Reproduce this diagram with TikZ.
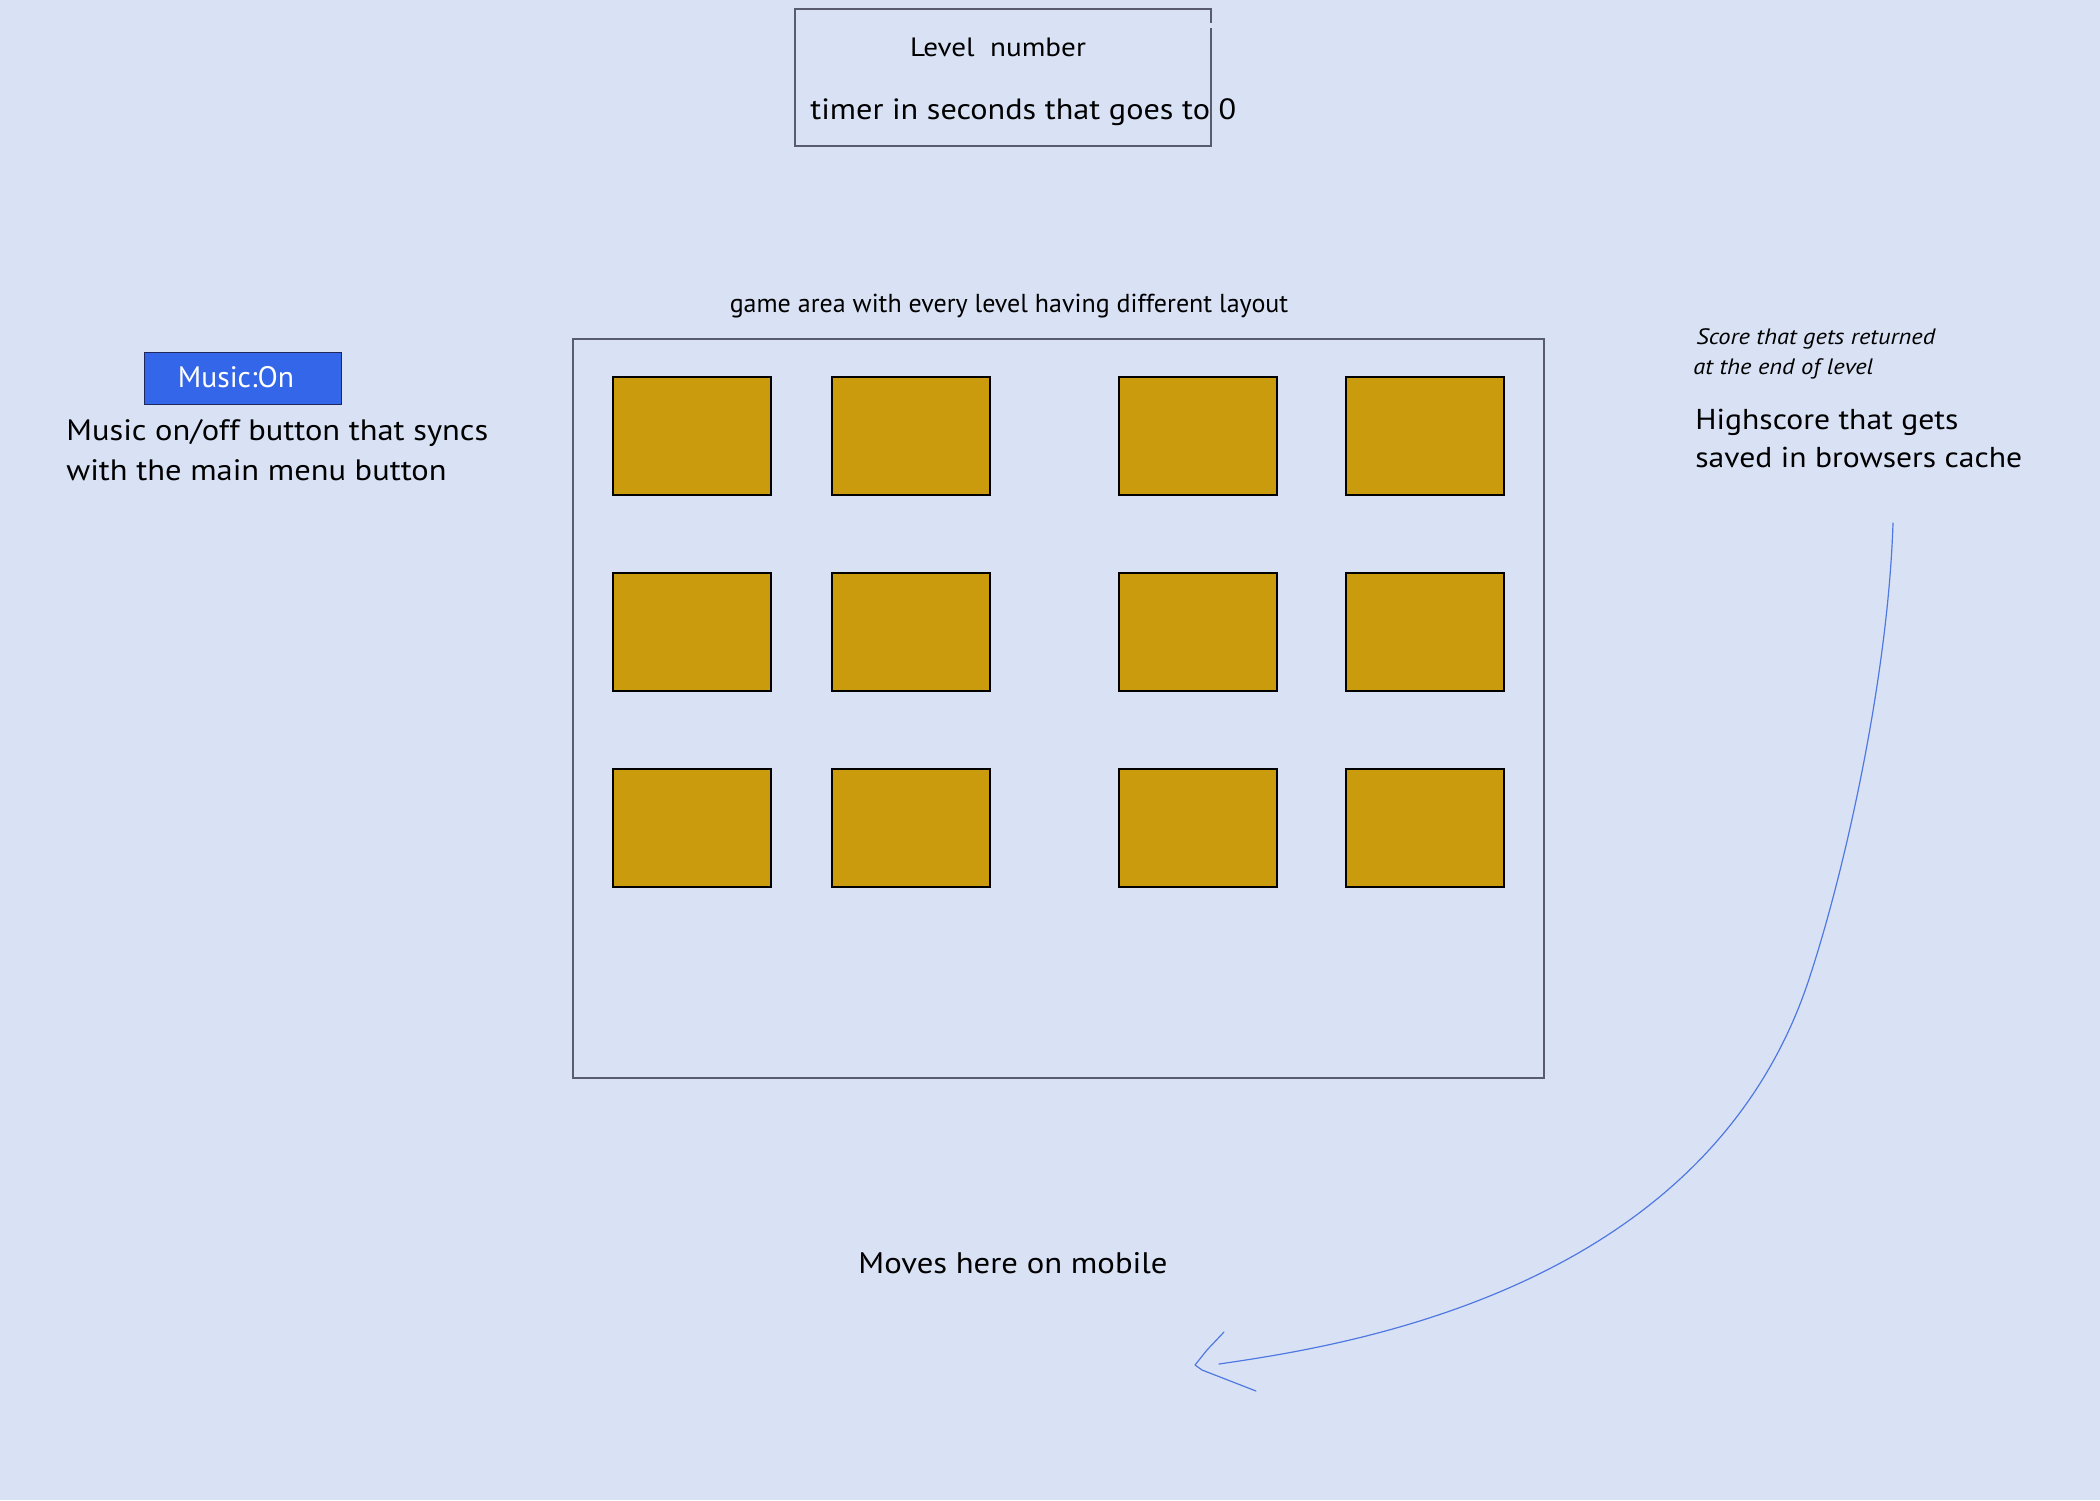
\documentclass[tikz,border=0pt]{standalone}
\usepackage{fontspec}
\setmainfont[FakeStretch=1.1]{PT Sans}
\newfontfamily\plainfont{PT Sans}
\definecolor{bg}{RGB}{217,226,245}
\definecolor{tile}{RGB}{201,155,13}
\definecolor{btn}{RGB}{51,102,232}
\definecolor{btnedge}{RGB}{30,40,90}
\definecolor{frame}{RGB}{88,92,110}
\definecolor{curve}{RGB}{80,120,225}
\begin{document}
\begin{tikzpicture}[x=0.5pt,y=-0.5pt,
  tilebox/.style={draw=black,line width=0.6pt,fill=tile},
  framebox/.style={draw=frame,line width=0.7pt},
  lbl/.style={inner sep=0pt,text=black},
  arrowline/.style={draw=curve,line width=0.6pt,line cap=round,line join=round}]
\useasboundingbox[fill=bg] (0,0) rectangle (2100,1500);
% top box
\draw[framebox] (1211,23) -- (1211,9) -- (795,9) -- (795,146) -- (1211,146) -- (1211,28);
\node[lbl,anchor=base,font=\fontsize{13.25}{16}\selectfont] (lvl) at (998,56) {Level\ \ number};
\node[lbl,anchor=base west,font=\fontsize{14.66}{18}\selectfont] (timer) at (810,119) {timer in seconds that goes to 0};
% music button
\node[draw=btnedge,fill=btn,line width=0.6pt,minimum width=98.5pt,minimum height=26pt,inner sep=0pt,anchor=north west] (music) at (144,352) {};
\node[lbl,text=white,anchor=base,font=\plainfont\fontsize{14.8}{18}\selectfont] (musictxt) at (236,387) {Music:On};
\node[lbl,anchor=base west,font=\fontsize{14.76}{20}\selectfont] (m1) at (66,440) {Music on/off button that syncs};
\node[lbl,anchor=base west,font=\fontsize{14.76}{20}\selectfont] (m2) at (66,480) {with the main menu button};
% game area
\node[lbl,anchor=base,font=\plainfont\fontsize{13}{16}\selectfont] (gtitle) at (1009,312) {game area with every level having different layout};
\draw[framebox] (573,339) rectangle (1544,1078);
\foreach \cx [count=\i] in {613,832,1119,1346}{
  \foreach \cy [count=\j] in {377,573,769}{
    \draw[tilebox] (\cx,\cy) rectangle ++(158,118);
  }
}
% right texts
\node[lbl,anchor=base west,font=\itshape\fontsize{11.14}{14}\selectfont] (s1) at (1696,344) {Score that gets returned};
\node[lbl,anchor=base west,font=\itshape\fontsize{11.14}{14}\selectfont] (s2) at (1693,374) {at the end of level};
\node[lbl,anchor=base west,font=\fontsize{14.38}{18}\selectfont] (h1) at (1695,429) {Highscore that gets};
\node[lbl,anchor=base west,font=\fontsize{14.38}{18}\selectfont] (h2) at (1695,467) {saved in browsers cache};
\node[lbl,anchor=base west,font=\fontsize{14.86}{18}\selectfont] (moves) at (858,1273) {Moves here on mobile};
% curve arrow
\coordinate (cstart) at (1893,523);
\coordinate (cmid) at (1806,988);
\coordinate (cend) at (1219,1364);
\coordinate (tip) at (1195,1365);
\coordinate (barbA) at (1224,1332);
\coordinate (barbB) at (1256,1391);
\draw[arrowline] (cstart) .. controls (1888,680) and (1843,880) .. (cmid)
  .. controls (1700,1290) and (1350,1345) .. (cend);
\draw[arrowline] (barbA) -- (1207,1350) -- (tip) -- (1202,1370) -- (barbB);
\end{tikzpicture}
\end{document}
